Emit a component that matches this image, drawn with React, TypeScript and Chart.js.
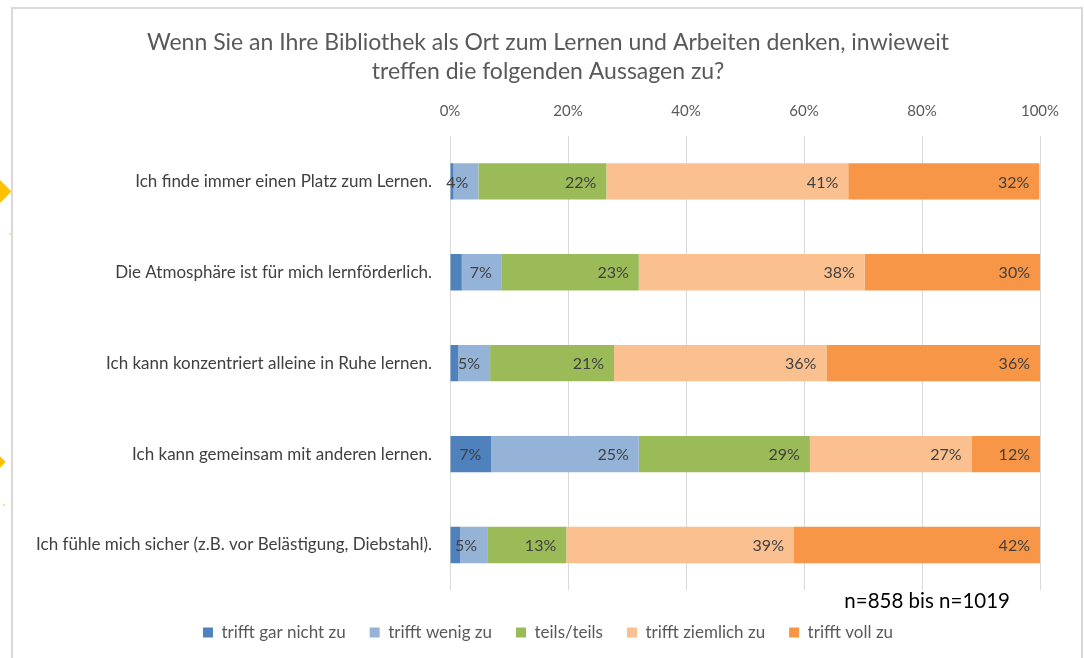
import { useEffect, useRef } from "react";
import { Chart, registerables } from "chart.js";

Chart.register(...registerables);

const FONT = "Lato";

const titleLines = [
  "Wenn Sie an Ihre Bibliothek als Ort zum Lernen und Arbeiten denken, inwieweit",
  "treffen die folgenden Aussagen zu?",
];

const categories = [
  "Ich finde immer einen Platz zum Lernen.",
  "Die Atmosphäre ist für mich lernförderlich.",
  "Ich kann konzentriert alleine in Ruhe lernen.",
  "Ich kann gemeinsam mit anderen lernen.",
  "Ich fühle mich sicher (z.B. vor Belästigung, Diebstahl).",
];

const seriesNames = [
  "trifft gar nicht zu",
  "trifft wenig zu",
  "teils/teils",
  "trifft ziemlich zu",
  "trifft voll zu",
];

const garNicht = [0.6, 2.0, 1.4, 7.0, 1.7];
const wenig = [4.2, 6.8, 5.4, 25.0, 4.6];
const teils = [21.7, 23.2, 21.0, 29.0, 13.4];
const ziemlich = [41.0, 38.3, 36.0, 27.4, 38.6];
const voll = [32.4, 29.7, 36.2, 11.6, 41.7];

const seriesValues = [garNicht, wenig, teils, ziemlich, voll];
const seriesColors = ["#4F81BD", "#95B3D7", "#9BBB59", "#FAC090", "#F79646"];

const xTicks = [0, 20, 40, 60, 80, 100];
const sampleNote = "n=858 bis n=1019";
const labelThreshold = 3;

const segmentLabels = {
  id: "segmentLabels",
  afterDatasetsDraw(chart: any) {
    const ctx = chart.ctx;
    ctx.save();
    ctx.font = `16px ${FONT}`;
    ctx.fillStyle = "#404040";
    ctx.textAlign = "right";
    ctx.textBaseline = "middle";
    chart.data.datasets.forEach((ds: any, di: number) => {
      const meta = chart.getDatasetMeta(di);
      meta.data.forEach((bar: any, i: number) => {
        const v = ds.data[i];
        if (v < labelThreshold) return;
        ctx.fillText(Math.round(v) + "%", bar.x - 10, bar.y + 1);
      });
    });
    ctx.restore();
  },
};

const noteText = {
  id: "noteText",
  afterDraw(chart: any) {
    const ctx = chart.ctx;
    const area = chart.chartArea;
    ctx.save();
    ctx.font = `20.5px ${FONT}`;
    ctx.fillStyle = "#000000";
    ctx.textAlign = "right";
    ctx.textBaseline = "middle";
    ctx.fillText(sampleNote, area.right - 30, area.bottom + 11);
    ctx.restore();
  },
};

export default function App() {
  const canvasRef = useRef<HTMLCanvasElement | null>(null);

  useEffect(() => {
    document.body.style.margin = "0";
    const canvas = canvasRef.current;
    if (!canvas) return;
    const chart = new Chart(canvas, {
      type: "bar",
      data: {
        labels: categories,
        datasets: seriesNames.map((name, i) => ({
          label: name,
          data: seriesValues[i],
          backgroundColor: seriesColors[i],
          borderWidth: 0,
          categoryPercentage: 0.4,
          barPercentage: 1,
        })),
      },
      options: {
        indexAxis: "y",
        animation: false,
        responsive: false,
        maintainAspectRatio: false,
        layout: { padding: { left: 20, right: 8, top: 0, bottom: 7 } },
        scales: {
          x: {
            position: "top",
            stacked: true,
            min: 0,
            max: 100,
            afterBuildTicks(scale: any) {
              scale.ticks = xTicks.map((v) => ({ value: v }));
            },
            ticks: {
              callback: (v: any) => v + "%",
              color: "#595959",
              font: { family: FONT, size: 15 },
              padding: 16,
            },
            grid: { color: "#D9D9D9", drawTicks: false, lineWidth: 1 },
            border: { display: false },
          },
          y: {
            stacked: true,
            grid: { display: false, drawTicks: false },
            border: { display: false },
            ticks: {
              color: "#404040",
              font: { family: FONT, size: 17 },
              padding: 18,
            },
            afterFit(scale: any) {
              scale.width = 430;
            },
          },
          yRight: {
            type: "category",
            axis: "y",
            position: "right",
            display: true,
            grid: { display: false, drawTicks: false },
            border: { display: false },
            ticks: { display: false },
            afterFit(scale: any) {
              scale.width = 36;
            },
          },
        },
        plugins: {
          title: {
            display: true,
            text: titleLines,
            color: "#595959",
            font: { family: FONT, size: 23, weight: "normal", lineHeight: 1.26 },
            padding: { top: 28, bottom: 0 },
          },
          legend: {
            position: "bottom",
            title: { display: true, text: "", font: { size: 8 }, padding: 0 },
            labels: {
              boxWidth: 10,
              boxHeight: 10,
              color: "#595959",
              font: { family: FONT, size: 17 },
              padding: 24,
            },
          },
          tooltip: { enabled: false },
        },
      },
      plugins: [segmentLabels, noteText],
    } as any);
    return () => chart.destroy();
  }, []);

  const diamond = (cx: number, cy: number, size: number) => ({
    position: "absolute" as const,
    left: cx - size / 2,
    top: cy - size / 2,
    width: size,
    height: size,
    background: "#FFC000",
    transform: "rotate(45deg)",
  });

  return (
    <div
      style={{
        position: "absolute",
        left: 0,
        top: 0,
        width: 1084,
        height: 658,
        overflow: "hidden",
        background: "#ffffff",
      }}
    >
      <div style={diamond(-1, 191, 17)} />
      <div style={diamond(0, 462, 8)} />
      <div style={{ position: "absolute", left: 9, top: 233, width: 2, height: 2, background: "#FFE08A" }} />
      <div style={{ position: "absolute", left: 3, top: 504, width: 2, height: 2, background: "#FFE08A" }} />
      <div
        style={{
          position: "absolute",
          left: 11,
          top: 7,
          width: 1068,
          height: 720,
          border: "2px solid #D9D9D9",
        }}
      />
      <canvas
        ref={canvasRef}
        width={1084}
        height={658}
        style={{ position: "absolute", left: 0, top: 0, width: 1084, height: 658 }}
      />
    </div>
  );
}
